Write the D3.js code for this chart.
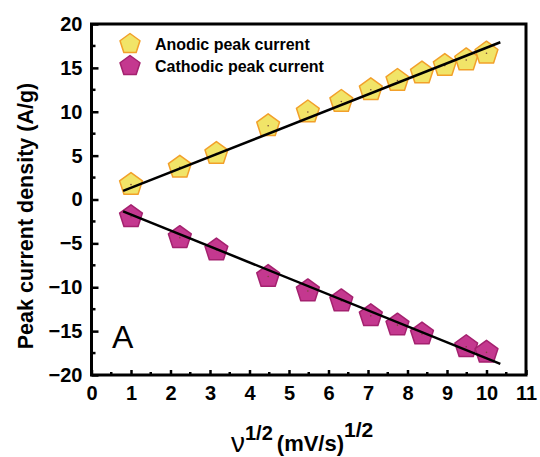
<!DOCTYPE html>
<html>
<head>
<meta charset="utf-8">
<script src="https://cdn.jsdelivr.net/npm/d3@7"></script>
<style>
  body { margin: 0; background: #fff; }
  text { font-family: Arial, "Liberation Sans", sans-serif; }
</style>
</head>
<body>
<div id="chart"></div>
<script>
// Data
var scanRates = [1, 5, 10, 20, 30, 40, 50, 60, 70, 80, 90, 100];
var anodicX = scanRates.map(function(v) { return Math.sqrt(v); });
var anodicY = [1.7, 3.67, 5.23, 8.4, 9.97, 11.17, 12.5, 13.56, 14.4, 15.26, 15.9, 16.67];
var cathodicRates = [1, 5, 10, 20, 30, 40, 50, 60, 70, 90, 100];
var cathodicX = cathodicRates.map(function(v) { return Math.sqrt(v); });
var cathodicY = [-1.97, -4.35, -5.76, -8.78, -10.42, -11.56, -13.26, -14.32, -15.34, -16.78, -17.42];
// linear fits [slope, intercept] and drawn range
var anodicFit = [1.774, -0.44];
var cathodicFit = [-1.82, 0.11];
var fitRange = [0.8, 10.35];
var xTicks = [0, 1, 2, 3, 4, 5, 6, 7, 8, 9, 10, 11];
var yTicks = [-20, -15, -10, -5, 0, 5, 10, 15, 20];

var width = 540, height = 457;
var margin = {top: 24, right: 14, bottom: 82, left: 91.5};

var svg = d3.select("#chart").append("svg")
    .attr("width", width)
    .attr("height", height);

var x = d3.scaleLinear().domain([0, 11]).range([margin.left, width - margin.right]);
var y = d3.scaleLinear().domain([-20, 20]).range([height - margin.bottom, margin.top]);

// pentagon path
function pentagon(r) {
    var pts = [];
    for (let i = 0; i < 5; i++) {
        let a = -Math.PI / 2 + i * 2 * Math.PI / 5;
        pts.push([r * Math.cos(a), r * Math.sin(a)]);
    }
    return "M" + pts.map(function(p) { return p[0].toFixed(2) + "," + p[1].toFixed(2); }).join("L") + "Z";
}

var anodicStyle = {fill: "#f1e468", stroke: "#f2a02a"};
var cathodicStyle = {fill: "#c4388f", stroke: "#a4216f"};

// Fit lines
function drawFit(fit) {
    svg.append("line")
        .attr("x1", x(fitRange[0])).attr("y1", y(fit[0] * fitRange[0] + fit[1]))
        .attr("x2", x(fitRange[1])).attr("y2", y(fit[0] * fitRange[1] + fit[1]))
        .attr("stroke", "#000")
        .attr("stroke-width", 2.5);
}

// Markers
function drawPoints(xs, ys, style) {
    for (let i = 0; i < xs.length; i++) {
        let g = svg.append("g")
            .attr("transform", "translate(" + x(xs[i]) + "," + y(ys[i]) + ")");
        g.append("path")
            .attr("d", pentagon(12))
            .attr("fill", style.fill)
            .attr("stroke", style.stroke)
            .attr("stroke-width", 1.5)
            .attr("stroke-linejoin", "round");
        g.append("circle").attr("r", 0.8).attr("fill", "#7a4a3a");
    }
}

drawPoints(anodicX, anodicY, anodicStyle);
drawPoints(cathodicX, cathodicY, cathodicStyle);
drawFit(anodicFit);
drawFit(cathodicFit);

// Axes: y ticks on left (inward), x ticks on bottom (inward)
var yAxis = d3.axisLeft(y).tickValues(yTicks).tickSize(-7).tickPadding(10)
    .tickFormat(d3.format("d"));
var gy = svg.append("g").attr("transform", "translate(" + margin.left + ",0)").call(yAxis);
gy.select(".domain").remove();
gy.selectAll(".tick line").attr("stroke-width", 2.5);
gy.selectAll("text").style("font-size", "20px").style("font-weight", "bold").attr("fill", "#000");
gy.selectAll("text").attr("x", -9);

var yMinor = d3.range(-17.5, 20, 5);
svg.append("g").selectAll("line").data(yMinor).join("line")
    .attr("x1", margin.left).attr("x2", margin.left + 4)
    .attr("y1", function(d) { return y(d); }).attr("y2", function(d) { return y(d); })
    .attr("stroke", "#000").attr("stroke-width", 2.5);

var xAxis = d3.axisBottom(x).tickValues(xTicks).tickSize(-5).tickPadding(11)
    .tickFormat(d3.format("d"));
var gx = svg.append("g").attr("transform", "translate(0," + (height - margin.bottom) + ")").call(xAxis);
gx.select(".domain").remove();
gx.selectAll(".tick line").attr("stroke-width", 2.5);
gx.selectAll("text").style("font-size", "20px").style("font-weight", "bold").attr("fill", "#000");

var xMinor = d3.range(0.5, 11, 1);
svg.append("g").selectAll("line").data(xMinor).join("line")
    .attr("x1", function(d) { return x(d); }).attr("x2", function(d) { return x(d); })
    .attr("y1", height - margin.bottom).attr("y2", height - margin.bottom - 3)
    .attr("stroke", "#000").attr("stroke-width", 2.5);

// Frame
svg.append("rect")
    .attr("x", margin.left).attr("y", margin.top)
    .attr("width", width - margin.left - margin.right)
    .attr("height", height - margin.top - margin.bottom)
    .attr("fill", "none").attr("stroke", "#000").attr("stroke-width", 3);

// Legend
var legend = [["Anodic peak current", anodicStyle], ["Cathodic peak current", cathodicStyle]];
for (let i = 0; i < legend.length; i++) {
    let ly = 44 + i * 22;
    svg.append("path")
        .attr("transform", "translate(130," + ly + ")")
        .attr("d", pentagon(10.5))
        .attr("fill", legend[i][1].fill)
        .attr("stroke", legend[i][1].stroke)
        .attr("stroke-width", 1.5)
        .attr("stroke-linejoin", "round");
    svg.append("text")
        .attr("x", 155).attr("y", ly + 6)
        .style("font-size", "16px").style("font-weight", "bold")
        .text(legend[i][0]);
}

// Panel label
svg.append("text").attr("x", 112).attr("y", 348)
    .style("font-size", "32px")
    .text("A");

// Axis titles
svg.append("text")
    .attr("transform", "translate(33," + 216 + ") rotate(-90)")
    .attr("text-anchor", "middle")
    .style("font-size", "21.5px").style("font-weight", "bold")
    .text("Peak current density (A/g)");

var xt = svg.append("text").attr("x", 231).attr("y", 452);
xt.append("tspan").style("font-size", "28px").text("ν");
xt.append("tspan").attr("y", 440).style("font-size", "20px").style("font-weight", "bold").text("1/2");
xt.append("tspan").attr("y", 451).attr("dx", 4).style("font-size", "22px").style("font-weight", "bold").text("(mV/s)");
xt.append("tspan").attr("y", 437).style("font-size", "21px").style("font-weight", "bold").text("1/2");
</script>
</body>
</html>
